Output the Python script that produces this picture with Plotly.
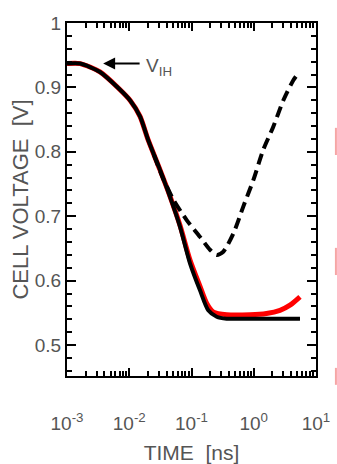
import plotly.graph_objects as go

# Data
solid_t = [0.001, 0.00162, 0.00339, 0.00667, 0.0105, 0.0149, 0.0202, 0.0312, 0.0452, 0.0653, 0.0946, 0.137, 0.186, 0.254, 0.368, 0.8, 2.0, 5.53]
solid_v = [0.937, 0.937, 0.924, 0.899, 0.879, 0.855, 0.818, 0.772, 0.730, 0.684, 0.627, 0.585, 0.554, 0.544, 0.541, 0.541, 0.541, 0.541]

red_t = [0.001, 0.00162, 0.00339, 0.00667, 0.0105, 0.0149, 0.0202, 0.0312, 0.0452, 0.0653, 0.0946, 0.137, 0.175, 0.225, 0.368, 0.871, 1.6, 2.64, 3.82, 5.53]
red_v = [0.937, 0.937, 0.924, 0.899, 0.879, 0.855, 0.818, 0.772, 0.731, 0.686, 0.632, 0.591, 0.565, 0.551, 0.547, 0.547, 0.549, 0.554, 0.562, 0.575]

dash_t = [0.025, 0.0352, 0.051, 0.0837, 0.137, 0.198, 0.254, 0.324, 0.47, 0.679, 0.984, 1.42, 2.06, 2.99, 4.32, 5.2]
dash_v = [0.795, 0.758, 0.726, 0.694, 0.668, 0.648, 0.640, 0.645, 0.673, 0.715, 0.756, 0.803, 0.839, 0.880, 0.911, 0.922]

x_tickvals = [0.001, 0.01, 0.1, 1, 10]
x_ticktext = ["10<sup>-3</sup>", "10<sup>-2</sup>", "10<sup>-1</sup>", "10<sup>0</sup>", "10<sup>1</sup>"]
y_tickvals = [0.5, 0.6, 0.7, 0.8, 0.9, 1.0]
y_ticktext = ["0.5", "0.6", "0.7", "0.8", "0.9", "1"]

FONT = "Liberation Sans Narrow, Liberation Sans, Arial, sans-serif"
GRAY = "#555555"

fig = go.Figure()
fig.add_trace(go.Scatter(x=red_t, y=red_v, mode="lines", line=dict(color="#ff0000", width=5, shape="spline", smoothing=0.7), showlegend=False))
fig.add_trace(go.Scatter(x=solid_t, y=solid_v, mode="lines", line=dict(color="black", width=4, shape="spline", smoothing=0.7), showlegend=False))
fig.add_trace(go.Scatter(x=dash_t, y=dash_v, mode="lines", line=dict(color="black", width=4, dash="11px,6px", shape="spline", smoothing=0.7), showlegend=False))

fig.update_xaxes(
    type="log", range=[-3, 1], tickvals=x_tickvals, ticktext=x_ticktext,
    ticks="inside", ticklen=8, tickwidth=2, tickcolor="black",
    showline=True, linecolor="black", linewidth=2, mirror="allticks",
    showgrid=False, zeroline=False, ticklabelstandoff=29, automargin=False,
    minor=dict(ticks="inside", ticklen=5, tickwidth=2, tickcolor="black", dtick="D1", showgrid=False),
    tickfont=dict(family=FONT, size=19, color=GRAY),
    title=dict(text="TIME  [ns]", font=dict(family=FONT, size=21, color=GRAY), standoff=14),
)
fig.update_yaxes(
    range=[0.452, 1.0], tickvals=y_tickvals, ticktext=y_ticktext,
    ticks="inside", ticklen=9, tickwidth=2, tickcolor="black",
    showline=True, linecolor="black", linewidth=2, mirror="allticks",
    showgrid=False, zeroline=False, automargin=False,
    minor=dict(ticks="inside", ticklen=5, tickwidth=2, tickcolor="black", dtick=0.02, showgrid=False),
    tickfont=dict(family=FONT, size=19, color=GRAY),
    title=dict(text="CELL VOLTAGE  [V]", font=dict(family=FONT, size=22, color=GRAY), standoff=0),
)

fig.add_annotation(x=-2.42, y=0.937, xref="x", yref="y", ax=38, ay=0, axref="pixel", ayref="pixel",
                   text="", showarrow=True, arrowhead=2, arrowsize=1.2, arrowwidth=2, arrowcolor="black")
fig.add_annotation(x=-1.76, y=0.932, xref="x", yref="y", text="V<sub>IH</sub>", showarrow=False,
                   xanchor="left", font=dict(family=FONT, size=19, color=GRAY))

for y0, y1 in [(0.626, 0.703), (0.286, 0.363), (-0.025, 0.023)]:
    fig.add_shape(type="line", xref="paper", yref="paper", x0=1.08, x1=1.08, y0=y0, y1=y1,
                  line=dict(color="#f6a5a5", width=2))

fig.update_layout(
    width=337, height=464,
    margin=dict(l=67, r=21, t=23, b=88),
    plot_bgcolor="white", paper_bgcolor="white",
)
fig.write_html("out.html")
